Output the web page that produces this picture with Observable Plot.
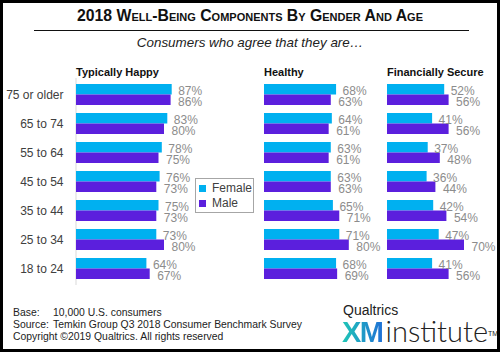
<!DOCTYPE html>
<html><head><meta charset="utf-8">
<script src="https://cdn.jsdelivr.net/npm/d3@7"></script>
<script src="https://cdn.jsdelivr.net/npm/@observablehq/plot@0.6"></script>
<style>
body{margin:0;background:#fff;}
#chart{position:relative;width:500px;height:352px;overflow:hidden;font-family:"Liberation Sans",Arial,sans-serif;background:#fff;color:#222;}
#frame{position:absolute;left:0;top:0;width:500px;height:352px;box-sizing:border-box;border:3px solid #000;pointer-events:none;}
.abs{position:absolute;white-space:nowrap;}
#title{left:0;width:500px;top:7px;line-height:18px;text-align:center;font-weight:bold;font-variant:small-caps;font-size:15.8px;color:#111;}
#rule{position:absolute;left:34px;top:29.5px;width:435px;height:0;border-top:1.5px solid #111;}
#subtitle{left:0;width:500px;top:34px;line-height:18px;text-align:center;font-style:italic;font-size:13.4px;color:#222;}
.ptitle{top:64px;line-height:16px;font-weight:bold;font-size:11px;color:#111;}
.plotbox{position:absolute;top:0;}
.plotbox svg{overflow:visible;max-width:none !important;}
#legend{position:absolute;left:195px;top:178px;width:59px;height:35px;box-sizing:border-box;border:1.5px solid #a6a6a6;background:#fff;padding:2px 0 0 3px;}
#footer{left:13px;top:307px;font-size:10.4px;line-height:12px;color:#222;}
#footer span.k{display:inline-block;width:40px;}
#logo1{left:343px;top:302px;font-size:14px;line-height:16px;color:#222;}
#logo2{left:342px;top:316px;font-size:29px;line-height:30px;}
#xm{font-weight:bold;letter-spacing:-1.5px;background:linear-gradient(90deg,#1fc7b6,#1f6fd6);-webkit-background-clip:text;background-clip:text;color:transparent;}
#inst{font-family:Lato,Roboto,sans-serif;font-weight:300;color:#222;margin-left:3px;}
#tm{font-size:7px;vertical-align:top;position:relative;top:3px;color:#222;}
</style></head><body>
<div id="chart">
  <div class="abs" id="title"></div>
  <div id="rule"></div>
  <div class="abs" id="subtitle"></div>
  <div class="abs" id="footer"></div>
  <div class="abs" id="logo1">Qualtrics</div>
  <div class="abs" id="logo2"><span id="xm">XM</span><span id="inst">institute</span><span id="tm">TM</span></div>
  <div id="frame"></div>
</div>
<script>
const titleText = "2018 Well-Being Components By Gender And Age";
const subtitleText = "Consumers who agree that they are…";
const ages = ["75 or older","65 to 74","55 to 64","45 to 54","35 to 44","25 to 34","18 to 24"];
const genders = ["Female","Male"];
const genderColors = ["#00b0f0","#5b1fdd"];
const panelTitles = ["Typically Happy","Healthy","Financially Secure"];
const happyFemale = [87,83,78,76,75,73,64];
const happyMale   = [86,80,75,73,73,80,67];
const healthyFemale = [68,64,63,63,65,71,68];
const healthyMale   = [63,61,61,63,71,80,69];
const secureFemale = [52,41,37,36,42,47,41];
const secureMale   = [56,56,48,44,54,70,56];
const footerLines = [["Base:","10,000  U.S. consumers"],["Source:","Temkin Group Q3 2018 Consumer Benchmark Survey"],["Copyright ©2019 Qualtrics. All rights reserved",""]];

document.getElementById("title").textContent = titleText;
document.getElementById("subtitle").textContent = subtitleText;
const footer = document.getElementById("footer");
footerLines.forEach(([k,v]) => {
  const line = document.createElement("div");
  if (v) { const s = document.createElement("span"); s.className="k"; s.textContent=k; line.appendChild(s); line.appendChild(document.createTextNode(v)); }
  else line.textContent = k;
  footer.appendChild(line);
});

const panelData = [[happyFemale,happyMale],[healthyFemale,healthyMale],[secureFemale,secureMale]];
// layout: [boxLeft, marginLeft, xRangeWidth, marginRight]
const layout = [[0,76,110,45],[254,10,106,40],[377,10,110,15]];
const top0 = 78, bottom0 = 285;
const pIn = 0.29, pOut = 0.145;
const step = (bottom0 - top0) / (ages.length - pIn + 2*pOut);
const half = step*(1-pIn)/2;
const chart = document.getElementById("chart");

panelData.forEach(([fem, mal], i) => {
  const rows = [];
  ages.forEach((a, j) => {
    rows.push({age:a, gender:"Female", value:fem[j]});
    rows.push({age:a, gender:"Male", value:mal[j]});
  });
  const F = rows.filter(d => d.gender === "Female");
  const M = rows.filter(d => d.gender === "Male");
  const [boxLeft, ml, xw, mr] = layout[i];
  const marks = [];
  if (i === 0) marks.push(Plot.ruleX([0], {stroke:"#d9d9d9", strokeWidth:1, dx:-0.5}));
  marks.push(
    Plot.barX(F, {x:"value", y:"age", fill:"gender", insetBottom:half}),
    Plot.barX(M, {x:"value", y:"age", fill:"gender", insetTop:half}),
    Plot.text(F, {x:"value", y:"age", text:d=>d.value+"%", dx:6, dy:-half/2+1.5, textAnchor:"start", fill:"#8c8c8c", fontSize:12}),
    Plot.text(M, {x:"value", y:"age", text:d=>d.value+"%", dx:7, dy:half/2+1.5, textAnchor:"start", fill:"#8c8c8c", fontSize:12})
  );
  const W = ml + xw + mr;
  const p = Plot.plot({
    width: W,
    height: bottom0 + 5,
    marginTop: top0, marginBottom: 5, marginLeft: ml, marginRight: mr,
    style: {fontFamily:'"Liberation Sans",Arial,sans-serif', fontSize:"12px", color:"#404040", background:"transparent", overflow:"visible", maxWidth:"none"},
    x: {domain:[0,100], axis:null},
    y: {domain: ages, paddingInner:pIn, paddingOuter:pOut, align:0.5, axis: i===0 ? "left" : null, tickSize:0, tickPadding:13, label:null},
    color: {domain: genders, range: genderColors},
    marks
  });
  const box = document.createElement("div");
  box.className = "plotbox";
  box.style.left = boxLeft + "px";
  box.style.width = W + "px";
  box.appendChild(p);
  chart.insertBefore(box, document.getElementById("frame"));
  const t = document.createElement("div");
  t.className = "abs ptitle";
  t.style.left = (boxLeft + ml) + "px";
  t.textContent = panelTitles[i];
  chart.insertBefore(t, document.getElementById("frame"));
});

const legBox = document.createElement("div");
legBox.id = "legend";
legBox.appendChild(Plot.legend({color:{domain:genders, range:genderColors}, legend:"swatches", columns:1, swatchSize:7, style:{fontFamily:'"Liberation Sans",Arial,sans-serif', fontSize:"12px", color:"#404040"}}));
chart.insertBefore(legBox, document.getElementById("frame"));
</script>
</body></html>
